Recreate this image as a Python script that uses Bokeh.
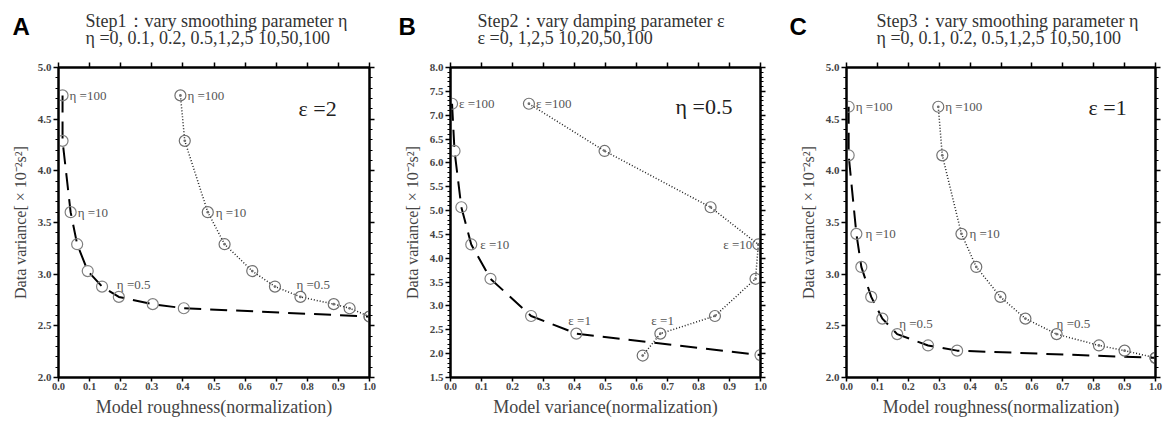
from bokeh.plotting import figure
from bokeh.layouts import row, column
from bokeh.models import (LinearAxis, Label, ColumnDataSource, FixedTicker,
                          PrintfTickFormatter, CustomJSTickFormatter)
from bokeh.embed import file_html
from bokeh.resources import INLINE
from bokeh.core.properties import value

SERIF = "Liberation Serif"

# ---------------- data ----------------
# Panel A (Step1, epsilon = 2)
A_dash_x = [0.013, 0.013, 0.039, 0.060, 0.094, 0.140, 0.194, 0.303, 0.403, 1.000]
A_dash_y = [4.73, 4.29, 3.60, 3.29, 3.03, 2.88, 2.78, 2.71, 2.67, 2.59]
A_dot_x = [0.392, 0.406, 0.480, 0.534, 0.623, 0.696, 0.778, 0.885, 0.936, 1.000]
A_dot_y = [4.73, 4.29, 3.60, 3.29, 3.03, 2.88, 2.78, 2.71, 2.67, 2.59]
A_labels = ["η =100", "η =10", "η =0.5"]
A_label_idx = [0, 2, 6]

# Panel B (Step2, eta = 0.5)
B_dash_x = [0.005, 0.013, 0.035, 0.067, 0.129, 0.260, 0.406, 1.000]
B_dash_y = [7.24, 6.25, 5.07, 4.29, 3.57, 2.79, 2.42, 1.97]
B_dot_x = [0.253, 0.497, 0.839, 0.993, 0.984, 0.853, 0.677, 0.620]
B_dot_y = [7.24, 6.25, 5.07, 4.29, 3.57, 2.79, 2.42, 1.96]
B_labels = ["ε =100", "ε =10", "ε =1"]
B_label_idx = [0, 3, 6]

# Panel C (Step3, epsilon = 1)
C_dash_x = [0.007, 0.007, 0.032, 0.048, 0.080, 0.116, 0.164, 0.264, 0.358, 1.000]
C_dash_y = [4.62, 4.15, 3.39, 3.07, 2.78, 2.57, 2.42, 2.31, 2.26, 2.19]
C_dot_x = [0.297, 0.310, 0.372, 0.420, 0.498, 0.579, 0.680, 0.817, 0.900, 1.000]
C_dot_y = [4.62, 4.15, 3.39, 3.07, 2.78, 2.57, 2.42, 2.31, 2.26, 2.19]
C_labels = ["η =100", "η =10", "η =0.5"]
C_label_idx = [0, 2, 6]

panel_letters = ["A", "B", "C"]
titles_line1 = ["Step1：vary smoothing parameter η", "Step2：vary damping parameter ε",
                "Step3：vary smoothing parameter η"]
titles_line2 = ["η =0, 0.1, 0.2, 0.5,1,2,5 10,50,100", "ε =0, 1,2,5 10,20,50,100",
                "η =0, 0.1, 0.2, 0.5,1,2,5 10,50,100"]

x_ticks = [round(i * 0.1, 1) for i in range(11)]
A_y_ticks = [2.0, 2.5, 3.0, 3.5, 4.0, 4.5, 5.0]
B_y_ticks = [1.5, 2.0, 2.5, 3.0, 3.5, 4.0, 4.5, 5.0, 5.5, 6.0, 6.5, 7.0, 7.5, 8.0]

Y_TITLE = "Data variance[ × 10⁻²s²]"

TOTAL_W = 1163
HEADER_H = 48

# ---------------- header (panel letters + titles) ----------------
header = figure(width=TOTAL_W, height=HEADER_H, x_range=(0, TOTAL_W), y_range=(HEADER_H, 0),
                min_border=0, toolbar_location=None, output_backend="svg",
                x_axis_location=None, y_axis_location=None, outline_line_color=None)
for g in header.grid:
    g.visible = False
letter_x = [12, 398, 789]
title_x = [85, 477, 876]
header.text(x=letter_x, y=[26, 26, 26], text=panel_letters, text_font=value("Liberation Sans"),
            text_font_style="bold", text_font_size="24px", text_color="black",
            text_baseline="middle", text_align="left")
header.text(x=title_x, y=[20, 20, 20], text=titles_line1, text_font=value(SERIF),
            text_font_size="18px", text_color="#333333", text_baseline="middle",
            text_align="left")
header.text(x=title_x, y=[37, 37, 37], text=titles_line2, text_font=value(SERIF),
            text_font_size="18px", text_color="#333333", text_baseline="middle",
            text_align="left")


def blank_axis(ticks, minor):
    ax = LinearAxis(ticker=FixedTicker(ticks=ticks, minor_ticks=minor),
                    formatter=CustomJSTickFormatter(code="return ''"))
    ax.axis_line_width = 2
    ax.major_tick_line_width = 1.5
    ax.minor_tick_line_width = 1.2
    ax.major_label_standoff = 0
    ax.major_label_text_font_size = "8px"
    return ax


def make_panel(yticks, xlabel, dash_x, dash_y, dot_x, dot_y,
               labels, label_idx, dash_off, dot_off, dot_align, big_text, big_pos,
               border_l, frame_w, border_r):
    ymin, ymax = yticks[0], yticks[-1]
    p = figure(frame_width=frame_w, frame_height=310, x_range=(0, 1), y_range=(ymin, ymax),
               min_border_left=border_l, min_border_right=border_r, min_border_top=67 - HEADER_H,
               min_border_bottom=44, toolbar_location=None, output_backend="svg",
               x_axis_location=None, y_axis_location=None, background_fill_color="white",
               border_fill_color="white")
    for g in p.grid:
        g.visible = False
    p.outline_line_color = "black"
    p.outline_line_width = 2

    minor = []
    v = ymin
    while v < ymax - 1e-9:
        for k in range(1, 5):
            minor.append(round(v + k * 0.1, 2))
        v = round(v + 0.5, 2)

    # left axis
    la = LinearAxis(ticker=FixedTicker(ticks=yticks, minor_ticks=minor),
                    formatter=PrintfTickFormatter(format="%.1f"), axis_label=Y_TITLE)
    la.axis_line_width = 2
    la.major_tick_out = 5
    la.major_tick_in = 0
    la.major_tick_line_width = 1.5
    la.minor_tick_out = 3
    la.minor_tick_in = 0
    la.minor_tick_line_width = 1.2
    la.major_label_text_font = SERIF
    la.major_label_text_font_style = "bold"
    la.major_label_text_font_size = "11px"
    la.major_label_standoff = 2
    la.axis_label_text_font = SERIF
    la.axis_label_text_font_style = "normal"
    la.axis_label_text_font_size = "16px"
    la.axis_label_text_color = "#444444"
    la.axis_label_standoff = 6
    p.add_layout(la, "left")

    # right axis (ticks only)
    ra = blank_axis(yticks, minor)
    ra.major_tick_out = 5
    ra.major_tick_in = 0
    ra.minor_tick_out = 3
    ra.minor_tick_in = 0
    p.add_layout(ra, "right")

    # top axis (ticks only)
    ta = blank_axis(x_ticks, [])
    ta.major_tick_out = 5
    ta.major_tick_in = 0
    ta.minor_tick_out = 0
    ta.minor_tick_in = 0
    p.add_layout(ta, "above")

    # bottom axis
    ba = LinearAxis(ticker=FixedTicker(ticks=x_ticks, minor_ticks=[]),
                    formatter=PrintfTickFormatter(format="%.1f"), axis_label=xlabel)
    ba.axis_line_width = 2
    ba.major_tick_out = 4
    ba.major_tick_in = 0
    ba.major_tick_line_width = 1.5
    ba.minor_tick_out = 0
    ba.minor_tick_in = 0
    ba.major_label_text_font = SERIF
    ba.major_label_text_font_style = "bold"
    ba.major_label_text_font_size = "10.5px"
    ba.major_label_standoff = 1
    ba.axis_label_text_font = SERIF
    ba.axis_label_text_font_style = "normal"
    ba.axis_label_text_font_size = "18px"
    ba.axis_label_text_color = "#444444"
    ba.axis_label_standoff = 4
    p.add_layout(ba, "below")

    # series
    p.line(dash_x, dash_y, line_color="black", line_width=2, line_dash="17 9")
    p.scatter(dash_x, dash_y, marker="circle", size=11, fill_color=None,
              line_color="#808080", line_width=1.2)
    p.line(dot_x, dot_y, line_color="#222222", line_width=1.5, line_dash="1 2")
    p.scatter(dot_x, dot_y, marker="circle_dot", size=11, fill_color=None,
              line_color="#707070", line_width=1.2)

    # point labels anchored to data points (offsets in screen pixels)
    src_l = ColumnDataSource(dict(
        x=[dash_x[i] for i in label_idx], y=[dash_y[i] for i in label_idx], t=labels,
        dx=[o[0] for o in dash_off], dy=[o[1] for o in dash_off]))
    p.text(x="x", y="y", text="t", x_offset="dx", y_offset="dy", text_font=value(SERIF),
           text_font_size="13px", text_color="#555555", text_baseline="middle",
           text_align="left", source=src_l)
    src_r = ColumnDataSource(dict(
        x=[dot_x[i] for i in label_idx], y=[dot_y[i] for i in label_idx], t=labels,
        dx=[o[0] for o in dot_off], dy=[o[1] for o in dot_off], al=dot_align))
    p.text(x="x", y="y", text="t", x_offset="dx", y_offset="dy", text_font=value(SERIF),
           text_font_size="13px", text_color="#555555", text_baseline="middle",
           text_align="al", source=src_r)

    # big parameter label
    p.add_layout(Label(x=big_pos[0], y=big_pos[1], x_units="screen", y_units="screen",
                       text=big_text, text_font=SERIF, text_font_size="22px",
                       text_color="#222222", text_baseline="middle"))
    return p


pA = make_panel(A_y_ticks, "Model roughness(normalization)", A_dash_x, A_dash_y, A_dot_x, A_dot_y,
                A_labels, A_label_idx, [(7, 0), (7, 0), (-2, -12)], [(7, 0), (8, 0), (-4, -12)],
                ["left", "left", "left"], "ε =2", (240, 269), 58, 311, 21)
pB = make_panel(B_y_ticks, "Model variance(normalization)", B_dash_x, B_dash_y, B_dot_x, B_dot_y,
                B_labels, B_label_idx, [(7, 0), (9, 0), (-8, -13)], [(7, 0), (-6, 0), (-9, -13)],
                ["left", "right", "left"], "η =0.5", (225, 271), 60, 310, 20)
pC = make_panel(A_y_ticks, "Model roughness(normalization)", C_dash_x, C_dash_y, C_dot_x, C_dot_y,
                C_labels, C_label_idx, [(7, 0), (9, 0), (2, -11)], [(7, 0), (8, 0), (0, -11)],
                ["left", "left", "left"], "ε =1", (242, 270), 66, 309, 8)

layout = column(header, row(pA, pB, pC))
open("out.html", "w").write(file_html(layout, INLINE))
